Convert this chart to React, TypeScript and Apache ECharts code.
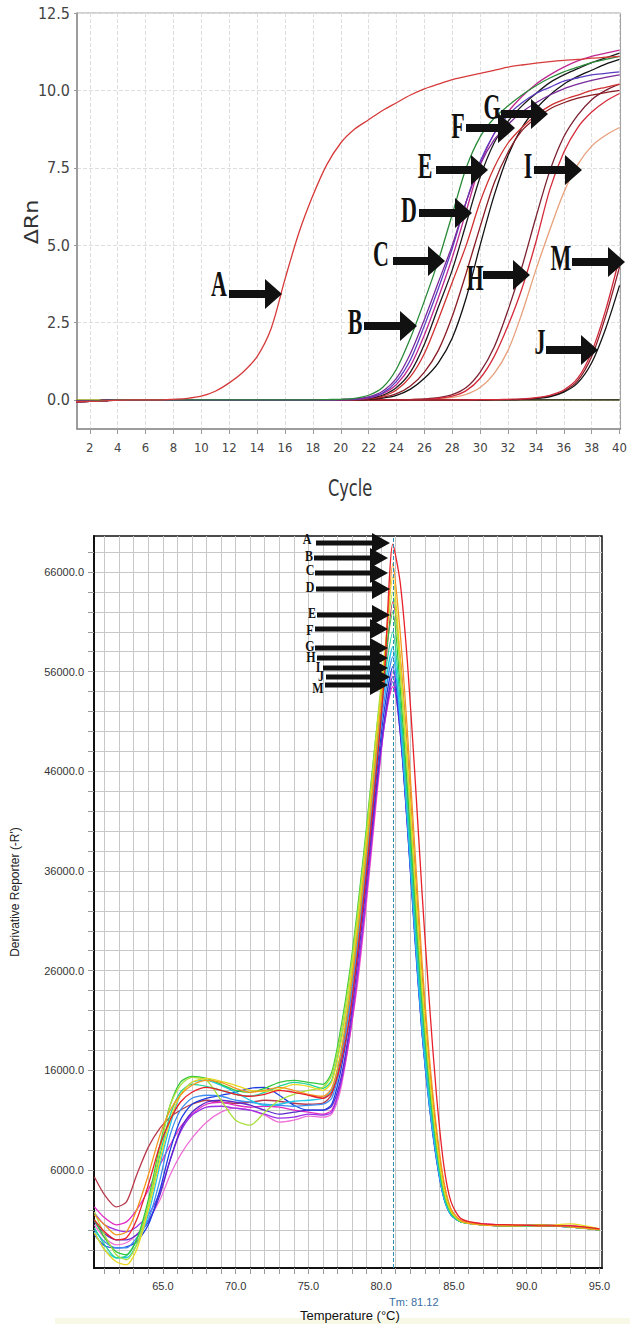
import React, { useEffect, useRef } from "react";
import * as echarts from "echarts";

// ---------- Amplification plot (top) ----------
const cycles = [1, 2, 3, 4, 5, 6, 7, 8, 9, 10, 11, 12, 13, 14, 15, 16, 17, 18, 19, 20,
  21, 22, 23, 24, 25, 26, 27, 28, 29, 30, 31, 32, 33, 34, 35, 36, 37, 38, 39, 40];
const topXTicks = [2, 4, 6, 8, 10, 12, 14, 16, 18, 20, 22, 24, 26, 28, 30, 32, 34, 36, 38, 40];
const topYTicks = [0, 2.5, 5, 7.5, 10, 12.5];

const ampNTC = [0, 0, 0, 0, 0, 0, 0, 0, 0, 0, 0, 0, 0, 0, 0, 0, 0, 0, 0, 0,
  0, 0, 0, 0, 0, 0, 0, 0, 0, 0, 0, 0, 0, 0, 0, 0, 0, 0, 0, 0];
const ampBase = [-0.06, -0.05, -0.03, -0.01, 0, 0, 0, 0, 0, 0, 0, 0, 0, 0, 0, 0, 0, 0, 0, 0,
  0, 0, 0, 0, 0, 0, 0, 0, 0, 0, 0, 0, 0, 0, 0, 0, 0, 0, 0, 0];
const ampA = [-0.06, -0.05, -0.03, -0.01, 0, 0, 0, 0.02, 0.05, 0.12,
  0.28, 0.55, 0.9, 1.4, 2.3, 3.9, 5.4, 6.6, 7.6, 8.3,
  8.75, 9.05, 9.35, 9.6, 9.85, 10.05, 10.2, 10.35, 10.45, 10.55,
  10.65, 10.75, 10.82, 10.88, 10.93, 10.97, 11.0, 11.04, 11.07, 11.1];
const ampGreen = [-0.05, -0.04, -0.02, 0, 0, 0, 0, 0, 0, 0,
  0, 0, 0, 0, 0, 0, 0, 0, 0.01, 0.02,
  0.05, 0.15, 0.4, 1.0, 2.0, 3.2, 4.5, 6.0, 7.5, 8.5,
  9.1, 9.5, 9.85, 10.15, 10.4, 10.6, 10.75, 10.9, 11.0, 11.1];
const ampPurple = [-0.04, -0.03, -0.02, 0, 0, 0, 0, 0, 0, 0,
  0, 0, 0, 0, 0, 0, 0, 0, 0, 0.01,
  0.03, 0.1, 0.28, 0.7, 1.5, 2.6, 3.8, 5.0, 6.4, 7.6,
  8.4, 8.9, 9.3, 9.6, 9.85, 10.05, 10.2, 10.32, 10.42, 10.5];
const ampViolet = [-0.05, -0.04, -0.02, 0, 0, 0, 0, 0, 0, 0,
  0, 0, 0, 0, 0, 0, 0, 0, 0, 0.01,
  0.02, 0.08, 0.22, 0.6, 1.3, 2.4, 3.6, 4.9, 6.4, 7.7,
  8.6, 9.2, 9.6, 9.9, 10.1, 10.3, 10.4, 10.5, 10.55, 10.6];
const ampMagenta = [-0.06, -0.05, -0.03, 0, 0, 0, 0, 0, 0, 0,
  0, 0, 0, 0, 0, 0, 0, 0, 0, 0.01,
  0.02, 0.06, 0.2, 0.5, 1.1, 2.1, 3.3, 4.6, 6.1, 7.6,
  8.6, 9.3, 9.8, 10.2, 10.5, 10.75, 10.95, 11.1, 11.2, 11.3];
const ampBlack1 = [-0.06, -0.05, -0.03, 0, 0, 0, 0, 0, 0, 0,
  0, 0, 0, 0, 0, 0, 0, 0, 0, 0.01,
  0.02, 0.05, 0.15, 0.4, 0.9, 1.8, 3.0, 4.2, 5.7, 7.2,
  8.3, 9.0, 9.5, 9.9, 10.25, 10.5, 10.7, 10.9, 11.05, 11.2];
const ampRed1 = [-0.05, -0.04, -0.02, 0, 0, 0, 0, 0, 0, 0,
  0, 0, 0, 0, 0, 0, 0, 0, 0, 0,
  0.01, 0.04, 0.12, 0.32, 0.75, 1.5, 2.6, 3.8, 5.0, 6.4,
  7.5, 8.3, 8.8, 9.2, 9.5, 9.7, 9.85, 10.0, 10.1, 10.2];
const ampDarkRed = [-0.05, -0.04, -0.02, 0, 0, 0, 0, 0, 0, 0,
  0, 0, 0, 0, 0, 0, 0, 0, 0, 0,
  0.01, 0.03, 0.08, 0.2, 0.45, 0.9, 1.6, 2.7, 4.1, 5.6,
  7.0, 8.0, 8.7, 9.1, 9.4, 9.6, 9.75, 9.85, 9.93, 10.0];
const ampBlack2 = [-0.06, -0.05, -0.03, 0, 0, 0, 0, 0, 0, 0,
  0, 0, 0, 0, 0, 0, 0, 0, 0, 0,
  0.01, 0.02, 0.06, 0.15, 0.35, 0.7, 1.2, 2.0, 3.3, 5.0,
  6.6, 7.9, 8.8, 9.4, 9.85, 10.2, 10.45, 10.65, 10.85, 11.0];
const ampH = [-0.05, -0.04, -0.02, 0, 0, 0, 0, 0, 0, 0,
  0, 0, 0, 0, 0, 0, 0, 0, 0, 0,
  0, 0, 0, 0, 0.01, 0.02, 0.05, 0.12, 0.3, 0.7,
  1.4, 2.4, 3.6, 5.1, 6.8, 8.0, 8.8, 9.3, 9.65, 9.9];
const ampH2 = [-0.05, -0.04, -0.02, 0, 0, 0, 0, 0, 0, 0,
  0, 0, 0, 0, 0, 0, 0, 0, 0, 0,
  0, 0, 0, 0, 0.01, 0.03, 0.07, 0.17, 0.4, 0.9,
  1.7, 2.9, 4.3, 5.9, 7.4, 8.5, 9.2, 9.7, 10.0, 10.2];
const ampI = [-0.04, -0.03, -0.02, 0, 0, 0, 0, 0, 0, 0,
  0, 0, 0, 0, 0, 0, 0, 0, 0, 0,
  0, 0, 0, 0, 0, 0.01, 0.03, 0.08, 0.18, 0.4,
  0.85, 1.6, 2.8, 4.2, 5.5, 6.7, 7.6, 8.2, 8.55, 8.8];
const ampM = [-0.05, -0.04, -0.02, 0, 0, 0, 0, 0, 0, 0,
  0, 0, 0, 0, 0, 0, 0, 0, 0, 0,
  0, 0, 0, 0, 0, 0, 0, 0, 0, 0.01,
  0.01, 0.02, 0.03, 0.07, 0.15, 0.32, 0.7, 1.55, 2.9, 4.6];
const ampM2 = [-0.05, -0.04, -0.02, 0, 0, 0, 0, 0, 0, 0,
  0, 0, 0, 0, 0, 0, 0, 0, 0, 0,
  0, 0, 0, 0, 0, 0, 0, 0, 0, 0,
  0.01, 0.01, 0.02, 0.05, 0.12, 0.28, 0.62, 1.4, 2.7, 4.3];
const ampJ = [-0.05, -0.04, -0.02, 0, 0, 0, 0, 0, 0, 0,
  0, 0, 0, 0, 0, 0, 0, 0, 0, 0,
  0, 0, 0, 0, 0, 0, 0, 0, 0, 0,
  0.01, 0.01, 0.02, 0.05, 0.1, 0.25, 0.55, 1.2, 2.3, 3.7];

const ampSeries: [number[], string][] = [
  [ampNTC, "#9aa21e"],
  [ampBase, "#1a1a1a"],
  [ampI, "#e6a07c"],
  [ampH2, "#7a2030"],
  [ampH, "#d42a3a"],
  [ampM2, "#8a1c28"],
  [ampJ, "#141414"],
  [ampM, "#d02838"],
  [ampBlack2, "#121212"],
  [ampDarkRed, "#8a1c24"],
  [ampRed1, "#d03030"],
  [ampBlack1, "#1a1a1a"],
  [ampMagenta, "#c02890"],
  [ampViolet, "#5b3cc4"],
  [ampPurple, "#7a2a9a"],
  [ampGreen, "#2a8a3a"],
  [ampA, "#d63a3a"],
];

// ---------- Melt curve plot (bottom), values in thousands ----------
const temps = [60.3, 61, 61.8, 62.5, 63.2, 64, 64.8, 65.5, 66.2, 67,
  68, 69, 70, 71, 72, 73, 74, 75, 76, 76.6,
  77.2, 77.8, 78.4, 79, 79.6, 80.2, 80.8, 81.3, 81.8, 82.3,
  82.8, 83.3, 83.8, 84.3, 84.8, 85.5, 87, 89, 91, 93,
  95];
const meltXTicks = [61, 62, 63, 64, 65, 66, 67, 68, 69, 70, 71, 72, 73, 74, 75, 76, 77, 78,
  79, 80, 81, 82, 83, 84, 85, 86, 87, 88, 89, 90, 91, 92, 93, 94, 95];
const meltXLabels = [65, 70, 75, 80, 85, 90, 95];
const meltYTicks = [-2000, 0, 2000, 4000, 6000, 8000, 10000, 12000, 14000, 16000, 18000,
  20000, 22000, 24000, 26000, 28000, 30000, 32000, 34000, 36000, 38000, 40000, 42000,
  44000, 46000, 48000, 50000, 52000, 54000, 56000, 58000, 60000, 62000, 64000, 66000, 68000];
const meltYLabels = [6000, 16000, 26000, 36000, 46000, 56000, 66000];
const tmLine = 80.82;

const meltBrown = [5.3, 3.5, 2.3, 2.8, 5.5, 8.3, 10.2, 11.3, 12.0, 12.6,
  13.0, 12.8, 12.7, 12.8, 13.0, 12.9, 12.7, 12.6, 12.7, 13.6,
  17.0, 22.5, 29.5, 37.5, 46.5, 55.0, 63.0, 57.5, 48.0, 36.5,
  25.5, 16.5, 9.6, 4.6, 2.0, 0.9, 0.5, 0.5, 0.4, 0.4,
  0.1];
const meltPink = [0.5, -0.8, -1.5, -1.3, -0.5, 1.0, 3.0, 5.5, 7.5, 9.2,
  10.8, 11.8, 12.2, 12.0, 11.5, 10.8, 11.0, 11.4, 11.3, 11.6,
  14.0, 19.0, 25.0, 33.0, 42.0, 50.5, 56.0, 52.0, 43.5, 33.0,
  22.5, 14.6, 8.3, 3.9, 1.8, 0.9, 0.6, 0.5, 0.5, 0.4,
  0.1];
const meltMagenta = [2.3, 1.2, 0.5, 0.8, 2.0, 4.0, 6.5, 8.5, 10.3, 11.6,
  12.6, 12.8, 12.5, 12.3, 12.4, 12.3, 12.0, 11.8, 11.6, 12.0,
  14.5, 19.0, 25.5, 33.5, 42.5, 50.5, 54.5, 51.5, 44.0, 33.5,
  23.0, 15.0, 8.5, 4.0, 1.8, 0.9, 0.6, 0.5, 0.5, 0.4,
  0.1];
const meltPurple = [1.7, 0.5, 0.0, -0.2, 0.3, 1.5, 3.8, 7.0, 9.8, 11.5,
  12.3, 12.4, 12.2, 12.0, 11.6, 11.2, 11.3, 11.6, 11.5, 11.8,
  14.5, 19.5, 26.0, 34.0, 43.0, 50.5, 55.0, 50.0, 41.0, 30.5,
  20.5, 13.2, 7.5, 3.4, 1.6, 0.8, 0.5, 0.4, 0.4, 0.3,
  0.0];
const meltIndigo = [0.8, -0.4, -1.0, -1.0, -0.5, 0.8, 3.5, 7.0, 10.0, 11.8,
  12.8, 13.0, 12.8, 12.5, 12.0, 11.6, 11.8, 12.0, 12.0, 12.4,
  15.0, 20.0, 27.0, 35.0, 43.5, 51.0, 55.5, 50.0, 40.5, 30.0,
  20.0, 12.8, 7.2, 3.3, 1.5, 0.8, 0.5, 0.4, 0.4, 0.3,
  0.0];
const meltBlue = [-0.5, -1.6, -1.8, -1.7, -1.2, 0.5, 4.0, 8.0, 11.0, 12.6,
  13.2, 13.5, 13.8, 14.2, 14.3, 13.5, 12.5, 12.0, 12.0, 12.6,
  15.8, 21.0, 28.0, 36.0, 44.5, 52.0, 56.5, 50.5, 40.5, 29.5,
  19.8, 12.5, 7.0, 3.2, 1.5, 0.8, 0.5, 0.4, 0.4, 0.3,
  0.0];
const meltLightBlue = [0.0, -1.2, -1.8, -1.8, -0.8, 1.0, 5.0, 9.5, 12.0, 13.2,
  13.5, 13.4, 13.0, 12.8, 12.6, 12.5, 12.4, 12.5, 12.6, 13.2,
  16.5, 22.0, 29.0, 37.0, 45.5, 53.0, 57.5, 51.0, 41.0, 30.0,
  20.0, 12.6, 7.2, 3.2, 1.5, 0.8, 0.5, 0.4, 0.4, 0.3,
  0.0];
const meltCyan = [-0.2, -2.0, -2.8, -2.8, -1.5, 1.5, 6.5, 10.5, 13.5, 14.8,
  15.0, 14.5, 13.8, 13.0, 12.5, 12.6, 12.9, 13.0, 13.2, 14.0,
  17.5, 23.0, 30.0, 38.0, 46.5, 54.0, 58.5, 51.5, 41.5, 30.5,
  20.5, 13.0, 7.4, 3.3, 1.5, 0.8, 0.5, 0.4, 0.4, 0.3,
  0.0];
const meltSpring = [0.2, -1.5, -2.8, -2.6, -1.0, 2.5, 7.5, 11.5, 13.8, 14.6,
  14.4, 14.0, 13.6, 13.4, 13.8, 14.4, 14.8, 14.6, 14.2, 15.0,
  18.8, 24.0, 31.0, 39.0, 47.5, 55.0, 60.0, 53.0, 43.0, 32.0,
  22.0, 14.0, 8.0, 3.6, 1.6, 0.8, 0.5, 0.4, 0.4, 0.3,
  0.0];
const meltGreen = [1.0, -0.8, -2.2, -2.5, -1.0, 3.0, 8.5, 12.5, 14.8, 15.4,
  15.2, 14.6, 14.0, 13.8, 14.2, 14.8, 15.0, 14.8, 14.6, 15.8,
  20.0, 25.5, 32.5, 40.5, 49.0, 56.5, 62.0, 54.5, 44.5, 33.5,
  23.0, 14.8, 8.4, 3.8, 1.7, 0.8, 0.5, 0.4, 0.5, 0.3,
  0.0];
const meltLime = [1.8, -0.5, -2.5, -3.0, -1.5, 2.5, 8.0, 12.5, 14.5, 15.3,
  15.0, 13.0, 11.0, 10.5, 11.8, 13.0, 13.6, 14.0, 14.3, 15.5,
  19.5, 25.0, 32.0, 40.0, 49.0, 57.5, 64.0, 56.0, 46.0, 35.0,
  24.0, 15.5, 8.8, 4.0, 1.8, 0.8, 0.5, 0.4, 0.4, 0.3,
  0.0];
const meltYellow = [-0.3, -2.0, -3.2, -3.5, -2.0, 2.0, 7.0, 11.0, 13.5, 14.8,
  15.2, 14.9, 14.5, 14.0, 13.9, 14.1, 14.6, 14.4, 14.0, 14.8,
  18.5, 24.0, 31.0, 39.0, 48.0, 57.0, 65.5, 57.5, 47.5, 36.0,
  25.0, 16.0, 9.2, 4.3, 1.9, 0.9, 0.5, 0.5, 0.4, 0.6,
  0.1];
const meltOrange = [1.5, 0.5, -0.5, -0.2, 2.0, 5.5, 9.5, 12.0, 13.5, 14.5,
  15.0, 14.8, 14.2, 13.8, 14.0, 14.3, 14.0, 13.6, 13.4, 14.2,
  17.5, 23.0, 30.0, 38.0, 47.0, 56.0, 66.8, 60.0, 50.0, 38.5,
  27.0, 17.5, 10.2, 4.9, 2.1, 0.9, 0.5, 0.4, 0.5, 0.3,
  0.0];
const meltRed = [1.0, -0.2, -1.0, -0.8, 1.0, 4.5, 8.5, 11.0, 12.8, 13.8,
  14.3, 14.0, 13.6, 13.4, 13.6, 14.0, 13.8, 13.5, 13.2, 13.8,
  16.5, 21.0, 28.0, 36.0, 45.0, 55.0, 68.8, 65.0, 57.0, 46.0,
  34.0, 23.0, 13.5, 6.5, 2.8, 1.1, 0.6, 0.5, 0.4, 0.4,
  0.1];

const meltSeries: [number[], string][] = [
  [meltBrown, "#b83a4c"],
  [meltPink, "#f070d8"],
  [meltMagenta, "#e02cc4"],
  [meltPurple, "#9b30e8"],
  [meltIndigo, "#5a28cc"],
  [meltBlue, "#1e3de0"],
  [meltLightBlue, "#3d8ef0"],
  [meltCyan, "#1ec6e8"],
  [meltSpring, "#20d49a"],
  [meltGreen, "#34c83c"],
  [meltLime, "#a8e03c"],
  [meltYellow, "#e8d820"],
  [meltOrange, "#f5961e"],
  [meltRed, "#e8202a"],
];

// ---------- Annotations ----------
const topArrows = [
  { label: "A", lx: 219, ly: 284, x0: 229, x1: 282, y: 294 },
  { label: "B", lx: 355, ly: 322, x0: 364, x1: 417, y: 326 },
  { label: "C", lx: 381, ly: 254, x0: 393, x1: 445, y: 261 },
  { label: "D", lx: 409, ly: 210, x0: 419, x1: 472, y: 213 },
  { label: "E", lx: 425, ly: 166, x0: 436, x1: 488, y: 170 },
  { label: "F", lx: 458, ly: 126, x0: 466, x1: 515, y: 128 },
  { label: "G", lx: 492, ly: 107, x0: 501, x1: 548, y: 114 },
  { label: "H", lx: 475, ly: 278, x0: 483, x1: 530, y: 275 },
  { label: "I", lx: 528, ly: 166, x0: 534, x1: 582, y: 170 },
  { label: "J", lx: 540, ly: 342, x0: 546, x1: 598, y: 350 },
  { label: "M", lx: 561, ly: 258, x0: 572, x1: 625, y: 262 },
];
const meltArrows = [
  { label: "A", lx: 307, ly: 539, x0: 316, x1: 390, y: 543 },
  { label: "B", lx: 309, ly: 556, x0: 314, x1: 388, y: 558 },
  { label: "C", lx: 310, ly: 570, x0: 315, x1: 388, y: 573 },
  { label: "D", lx: 310, ly: 587, x0: 316, x1: 390, y: 589 },
  { label: "E", lx: 312, ly: 613, x0: 317, x1: 390, y: 615 },
  { label: "F", lx: 310, ly: 630, x0: 315, x1: 388, y: 629 },
  { label: "G", lx: 310, ly: 646, x0: 315, x1: 388, y: 648 },
  { label: "H", lx: 311, ly: 657, x0: 317, x1: 388, y: 658 },
  { label: "I", lx: 318, ly: 667, x0: 323, x1: 388, y: 668 },
  { label: "J", lx: 321, ly: 676, x0: 326, x1: 390, y: 677 },
  { label: "M", lx: 318, ly: 688, x0: 325, x1: 388, y: 685 },
];

const NARROW = "'Liberation Sans Narrow', 'DejaVu Sans Condensed', 'Roboto Condensed', Arial, sans-serif";
const SANS = "'Liberation Sans', Arial, 'DejaVu Sans', sans-serif";
const SERIF = "'Liberation Serif', 'Times New Roman', 'DejaVu Serif', serif";

function arrowPoints(x0: number, x1: number, y: number, shaft: number, headH: number, headL: number) {
  return [
    [x0, y - shaft], [x1 - headL, y - shaft], [x1 - headL, y - headH], [x1, y],
    [x1 - headL, y + headH], [x1 - headL, y + shaft], [x0, y + shaft],
  ];
}

function buildOption() {
  const series: any[] = [];
  ampSeries.forEach(([vals, color]) => {
    series.push({
      type: "line", xAxisIndex: 0, yAxisIndex: 0, showSymbol: false, symbol: "none",
      smooth: 0.3, lineStyle: { color, width: 1.3 }, silent: true,
      data: cycles.map((c, i) => [c, vals[i]]),
    });
  });
  meltSeries.forEach(([vals, color], idx) => {
    const s: any = {
      type: "line", xAxisIndex: 1, yAxisIndex: 1, showSymbol: false, symbol: "none",
      smooth: 0.25, lineStyle: { color, width: 1.3 }, silent: true,
      data: temps.map((t, i) => [t, vals[i] * 1000]),
    };
    if (idx === meltSeries.length - 1) {
      s.markLine = {
        silent: true, symbol: ["none", "none"], label: { show: false },
        lineStyle: { type: "dashed", color: "#2b8fb0", width: 1 },
        data: [{ xAxis: tmLine }],
      };
    }
    series.push(s);
  });

  const graphic: any[] = [];
  topArrows.forEach((a) => {
    graphic.push({
      type: "polygon", z: 100, silent: true,
      shape: { points: arrowPoints(a.x0, a.x1, a.y, 4, 15, 17) },
      style: { fill: "#111" },
    });
    graphic.push({
      type: "text", z: 101, x: a.lx, y: a.ly, scaleY: 1.6, silent: true,
      style: { text: a.label, fontSize: 22, fontWeight: "bold", fontFamily: SERIF, fill: "#111", align: "center", verticalAlign: "middle" },
    });
  });
  meltArrows.forEach((a) => {
    graphic.push({
      type: "polygon", z: 100, silent: true,
      shape: { points: arrowPoints(a.x0, a.x1, a.y, 2.5, 10, 18) },
      style: { fill: "#111" },
    });
    graphic.push({
      type: "text", z: 101, x: a.lx, y: a.ly, scaleY: 1.15, silent: true,
      style: { text: a.label, fontSize: 12, fontWeight: "bold", fontFamily: SERIF, fill: "#111", align: "center", verticalAlign: "middle" },
    });
  });
  graphic.push(
    {
      type: "text", x: 32, y: 222, rotation: Math.PI / 2, scaleX: 1.3, silent: true,
      style: { text: "ΔRn", fontSize: 19, fontFamily: NARROW, fill: "#333", align: "center", verticalAlign: "middle" },
    },
    {
      type: "text", x: 350, y: 488, scaleY: 1.3, silent: true,
      style: { text: "Cycle", fontSize: 18, fontFamily: NARROW, fill: "#333", align: "center", verticalAlign: "middle" },
    },
    {
      type: "text", x: 15, y: 892, rotation: Math.PI / 2, silent: true,
      style: { text: "Derivative Reporter (-R')", fontSize: 12, fontFamily: SANS, fill: "#222", align: "center", verticalAlign: "middle" },
    },
    {
      type: "text", x: 300, y: 1315, silent: true,
      style: { text: "Temperature (°C)", fontSize: 13, fontFamily: SANS, fill: "#111", align: "left", verticalAlign: "middle" },
    },
    {
      type: "text", x: 389, y: 1302, silent: true,
      style: { text: "Tm: 81.12", fontSize: 11, fontFamily: SANS, fill: "#3a6fa3", align: "left", verticalAlign: "middle" },
    },
    {
      type: "rect", z: -1, silent: true, shape: { x: 55, y: 1318, width: 575, height: 6 },
      style: { fill: "#f8f8e6" },
    },
  );

  return {
    animation: false,
    backgroundColor: "#ffffff",
    grid: [
      { left: 77, top: 13, width: 550, height: 416, show: true, borderColor: "#a0a0a0", borderWidth: 1, backgroundColor: "transparent" },
      { left: 94, top: 536, width: 508, height: 732, show: true, borderColor: "#111", borderWidth: 1.5, backgroundColor: "transparent" },
    ],
    xAxis: [
      {
        type: "value", gridIndex: 0, min: 1.08, max: 40.07,
        axisLine: { show: true, onZero: false, lineStyle: { color: "#8c8c8c", width: 1.5 } },
        axisTick: { show: true, customValues: topXTicks, length: 5, lineStyle: { color: "#9a9a9a" } },
        axisLabel: { customValues: topXTicks, fontSize: 13, color: "#444", fontFamily: NARROW, margin: 12, formatter: (v: number) => String(v) },
        splitLine: { show: true, lineStyle: { type: "dashed", color: "#dedede", width: 1 } },
      },
      {
        type: "value", gridIndex: 1, min: 60.27, max: 95.17,
        axisLine: { show: true, onZero: false, lineStyle: { color: "#111", width: 2 } },
        axisTick: { show: true, customValues: meltXTicks, length: 6, lineStyle: { color: "#999" } },
        axisLabel: { customValues: meltXLabels, fontSize: 11, color: "#333", fontFamily: SANS, margin: 12, formatter: (v: number) => v.toFixed(1) },
        splitLine: { show: true, lineStyle: { color: "#c8c8c8", width: 1 } },
      },
    ],
    yAxis: [
      {
        type: "value", gridIndex: 0, min: -0.94, max: 12.5,
        axisLine: { show: true, onZero: false, lineStyle: { color: "#8c8c8c", width: 1.5 } },
        axisTick: { show: true, customValues: topYTicks, length: 3, lineStyle: { color: "#9a9a9a" } },
        axisLabel: { customValues: topYTicks, fontSize: 16, color: "#444", fontFamily: NARROW, margin: 7, formatter: (v: number) => v.toFixed(1) },
        splitLine: { show: true, lineStyle: { type: "dashed", color: "#dedede", width: 1 } },
      },
      {
        type: "value", gridIndex: 1, min: -3830, max: 69610,
        axisLine: { show: true, onZero: false, lineStyle: { color: "#111", width: 2 } },
        axisTick: { show: true, customValues: meltYTicks, length: 6, lineStyle: { color: "#999" } },
        axisLabel: { customValues: meltYLabels, fontSize: 11, color: "#333", fontFamily: SANS, margin: 10, formatter: (v: number) => v.toFixed(1) },
        splitLine: { show: true, lineStyle: { color: "#c8c8c8", width: 1 } },
      },
    ],
    series,
    graphic,
  };
}

export default function App() {
  const ref = useRef<HTMLDivElement>(null);
  useEffect(() => {
    document.body.style.margin = "0";
    const chart = echarts.init(ref.current!, null, { renderer: "svg" });
    chart.setOption(buildOption() as any);
    return () => chart.dispose();
  }, []);
  return <div ref={ref} style={{ width: 630, height: 1324, background: "#fff" }} />;
}
